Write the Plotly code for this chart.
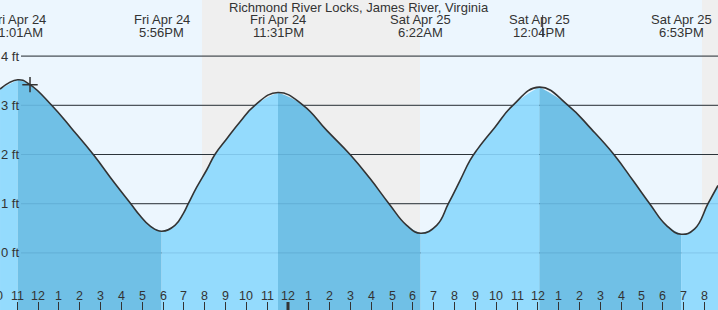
import plotly.graph_objects as go

# ---- data (hours since Fri Apr 24 00:00) ----
tide_time = [10.17, 11.02, 11.61, 12.65, 13.61, 14.65, 15.69, 16.45, 16.89, 17.37,
             17.93, 18.57, 18.97, 19.21, 19.61, 20.10, 20.49, 21.06, 21.69, 22.41,
             23.52, 24.73, 25.86, 26.98, 27.94, 28.85, 29.70, 30.37, 31.14, 31.70,
             32.26, 32.74, 33.12, 33.93, 34.80, 36.07, 37.45, 38.56, 39.65, 40.57,
             41.37, 42.17, 42.88, 43.53, 44.17, 44.65]
tide_level = [3.33, 3.52, 3.42, 3.00, 2.53, 2.00, 1.41, 1.00, 0.76, 0.55,
              0.44, 0.56, 0.80, 1.00, 1.33, 1.69, 2.00, 2.32, 2.66, 3.00,
              3.26, 3.00, 2.49, 2.00, 1.51, 1.00, 0.56, 0.40, 0.56, 1.00,
              1.47, 1.88, 2.12, 2.55, 3.00, 3.37, 3.00, 2.52, 2.00, 1.47,
              1.00, 0.56, 0.38, 0.49, 1.00, 1.37]

event_time = [11.02, 17.93, 23.52, 30.37, 36.07, 42.88]
event_kind = ["H", "L", "H", "L", "H", "L"]
event_day = ["Fri Apr 24", "Fri Apr 24", "Fri Apr 24", "Sat Apr 25", "Sat Apr 25", "Sat Apr 25"]
event_clock = ["11:01AM", "5:56PM", "11:31PM", "6:22AM", "12:04PM", "6:53PM"]

night_start = [19.87, 43.88]
night_end = [30.34, 48.0]

now_time = 11.61
now_level = 3.42
label_mark_time = 36.23

hour_ticks = [10, 11, 12, 13, 14, 15, 16, 17, 18, 19, 20, 21, 22, 23, 24, 25, 26, 27,
              28, 29, 30, 31, 32, 33, 34, 35, 36, 37, 38, 39, 40, 41, 42, 43, 44]
hour_labels = ["10", "11", "12", "1", "2", "3", "4", "5", "6", "7", "8", "9", "10", "11",
               "12", "1", "2", "3", "4", "5", "6", "7", "8", "9", "10", "11", "12", "1",
               "2", "3", "4", "5", "6", "7", "8"]
midnight_tick = 24

ft_ticks = [0, 1, 2, 3, 4]
ft_labels = ["0 ft", "1 ft", "2 ft", "3 ft", "4 ft"]

# ---- styling ----
W, H = 718, 310
X_RANGE = [10.169, 44.65]
Y_RANGE = [-1.16, 5.14]
DAY_BG = "#ecf6fe"
NIGHT_BG = "#efefef"
FLOOD = "#94dbfd"
EBB = "#70c0e6"
INK = "#333333"
FONT = "Liberation Sans, Arial, sans-serif"
Y_BOTTOM = -3
SMOOTH = 1.3


def xpaper(t):
    return (t - X_RANGE[0]) / (X_RANGE[1] - X_RANGE[0])


fig = go.Figure()

# fill segments split at highs/lows
bounds = [tide_time[0]] + event_time + [tide_time[-1]]
for i in range(len(bounds) - 1):
    a, b = bounds[i], bounds[i + 1]
    xs = [t for t in tide_time if a <= t <= b]
    ys = [v for t, v in zip(tide_time, tide_level) if a <= t <= b]
    ebb = i > 0 and event_kind[i - 1] == "H"
    color = EBB if ebb else FLOOD
    fig.add_trace(go.Scatter(x=[xs[0], xs[-1]], y=[Y_BOTTOM, Y_BOTTOM], mode="lines",
                             line=dict(width=0, color=color), hoverinfo="skip",
                             showlegend=False))
    fig.add_trace(go.Scatter(x=xs, y=ys, mode="lines", fill="tonexty", fillcolor=color,
                             line=dict(width=0, color=color, shape="spline", smoothing=SMOOTH),
                             hoverinfo="skip", showlegend=False))

# outline
fig.add_trace(go.Scatter(x=tide_time, y=tide_level, mode="lines",
                         line=dict(color=INK, width=1.6, shape="spline", smoothing=SMOOTH),
                         hoverinfo="skip", showlegend=False))

# current-time marker
fig.add_trace(go.Scatter(x=[now_time], y=[now_level], mode="markers",
                         marker=dict(symbol="cross-thin", size=11,
                                     line=dict(color=INK, width=1.5)),
                         hoverinfo="skip", showlegend=False))

shapes = []
for s, e in zip(night_start, night_end):
    shapes.append(dict(type="rect", xref="x", yref="paper", x0=s, x1=e, y0=0, y1=1,
                       fillcolor=NIGHT_BG, line=dict(width=0), layer="below"))
grid_x0 = 21 / W
for v in ft_ticks:
    shapes.append(dict(type="line", xref="paper", yref="y", x0=grid_x0, x1=1, y0=v, y1=v,
                       line=dict(color=INK, width=1), layer="below"))
    shapes.append(dict(type="line", xref="paper", yref="y", x0=grid_x0, x1=1, y0=v, y1=v,
                       line=dict(color="rgba(0,60,110,0.13)", width=1), layer="above"))
shapes.append(dict(type="line", xref="x", yref="paper", x0=midnight_tick, x1=midnight_tick,
                   y0=0, y1=8 / H, line=dict(color=INK, width=3), layer="above"))
shapes.append(dict(type="line", xref="x", yref="paper", x0=label_mark_time, x1=label_mark_time,
                   y0=1 - 37 / H, y1=1 - 15 / H, line=dict(color=INK, width=1), layer="above"))

ann = []
ann.append(dict(text="Richmond River Locks, James River, Virginia", xref="paper", yref="paper",
                x=0.5, y=1 - 7.5 / H, xanchor="center", yanchor="middle", showarrow=False,
                font=dict(family=FONT, size=13, color=INK)))
for t, d, c in zip(event_time, event_day, event_clock):
    ann.append(dict(text=d, xref="paper", yref="paper", x=xpaper(t), y=1 - 19.5 / H,
                    xanchor="center", yanchor="middle", showarrow=False,
                    font=dict(family=FONT, size=13, color=INK)))
    ann.append(dict(text=c, xref="paper", yref="paper", x=xpaper(t), y=1 - 32 / H,
                    xanchor="center", yanchor="middle", showarrow=False,
                    font=dict(family=FONT, size=13, color=INK)))
for v, lab in zip(ft_ticks, ft_labels):
    ann.append(dict(text=lab, xref="paper", yref="y", x=20.5 / W, y=v, xanchor="right",
                    yanchor="middle", showarrow=False, font=dict(family=FONT, size=13, color=INK)))
for t, lab in zip(hour_ticks, hour_labels):
    ann.append(dict(text=lab, xref="paper", yref="paper", x=xpaper(t), y=(H - 295.5) / H,
                    xanchor="center", yanchor="middle", showarrow=False,
                    font=dict(family=FONT, size=12.5, color=INK)))

fig.update_layout(
    width=W, height=H, margin=dict(l=0, r=0, t=0, b=0),
    plot_bgcolor=DAY_BG, paper_bgcolor=DAY_BG,
    xaxis=dict(range=X_RANGE, showgrid=False, zeroline=False, showticklabels=False,
               tickmode="array", tickvals=hour_ticks, ticks="inside", ticklen=8,
               tickwidth=1, tickcolor=INK, showline=False, fixedrange=True),
    yaxis=dict(range=Y_RANGE, showgrid=False, zeroline=False, showticklabels=False,
               showline=False, ticks="", fixedrange=True),
    shapes=shapes, annotations=ann, showlegend=False,
)

fig.write_html("out.html", config={"displayModeBar": False})
